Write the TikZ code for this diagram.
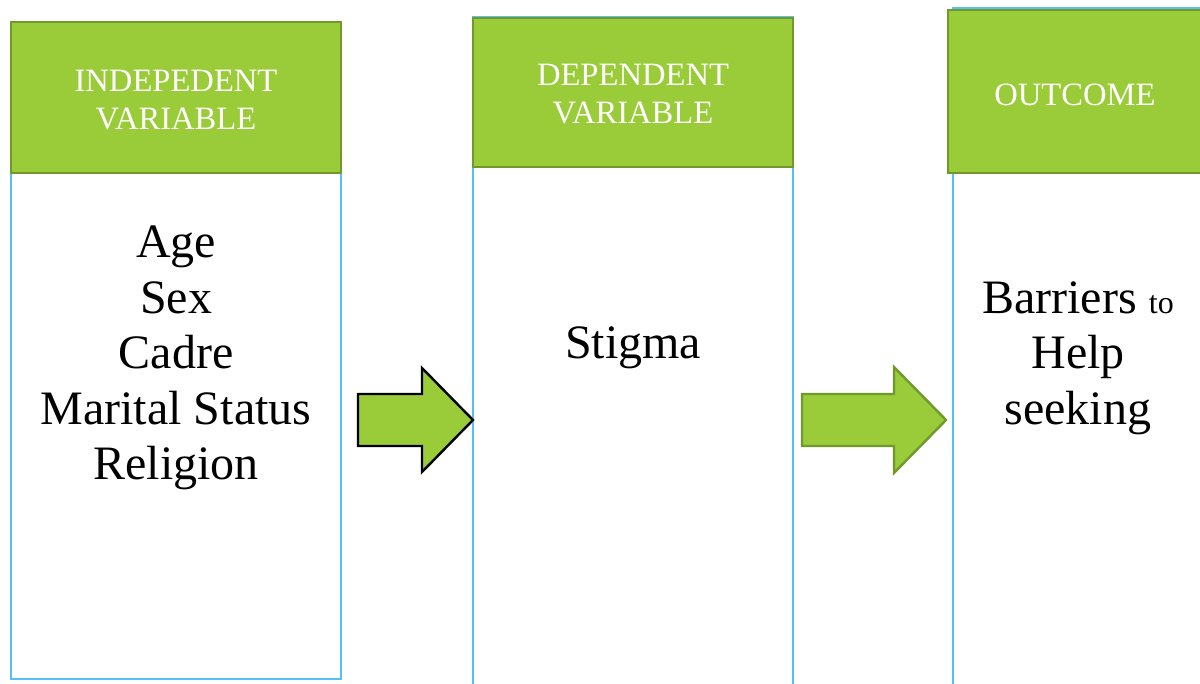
\documentclass[tikz,border=0pt]{standalone}
\usepackage{fontspec}
\setmainfont{Liberation Serif}
\definecolor{hgreen}{RGB}{154,203,57}
\definecolor{hborder}{RGB}{112,152,42}
\definecolor{lblue}{RGB}{85,192,245}
\begin{document}
\begin{tikzpicture}[x=0.5pt,y=-0.5pt,
  header/.style={fill=hgreen,draw=hborder,line width=1.2pt},
  column/.style={draw=lblue,line width=1.2pt},
  htext/.style={text=white,font=\fontsize{16.3}{19}\selectfont,align=center,inner sep=0pt},
  btext/.style={font=\fontsize{24}{27.75}\selectfont,align=center,inner sep=0pt},
  blockarrow/.style={fill=hgreen,line width=1.2pt,line join=miter}]
\useasboundingbox (0,0) rectangle (1200,684);
\clip (0,0) rectangle (1200,684);
% columns
\draw[column] (11,173) rectangle (341,679);
\draw[column] (473,17) rectangle (793,700);
\draw[column] (953,8) rectangle (1220,700);
% headers
\draw[header] (11,22) rectangle (341,173);
\draw[header] (473,18) rectangle (793,167);
\draw[header] (948,10) rectangle (1220,173);
\node[htext] (h1) at (176,100) {INDEPEDENT\\VARIABLE};
\node[htext] (h2) at (633,94) {DEPENDENT\\VARIABLE};
\node[htext] (h3) at (1075,95) {OUTCOME};
% body texts
\node[btext] (b1) at (176,358) {Age\\Sex\\Cadre\\Marital Status\\Religion};
\node[btext] (b2) at (633,348) {Stigma};
\node[btext] (b3) at (1078,358) {Barriers {\fontsize{16}{19}\selectfont to}\\Help\\seeking};
% block arrows
\draw[blockarrow,draw=black] (358,394) -- (422,394) -- (422,368) -- (473,420) -- (422,472) -- (422,446) -- (358,446) -- cycle;
\draw[blockarrow,draw=hborder] (802,394) -- (894,394) -- (894,367) -- (946,420) -- (894,473) -- (894,446) -- (802,446) -- cycle;
\end{tikzpicture}
\end{document}
